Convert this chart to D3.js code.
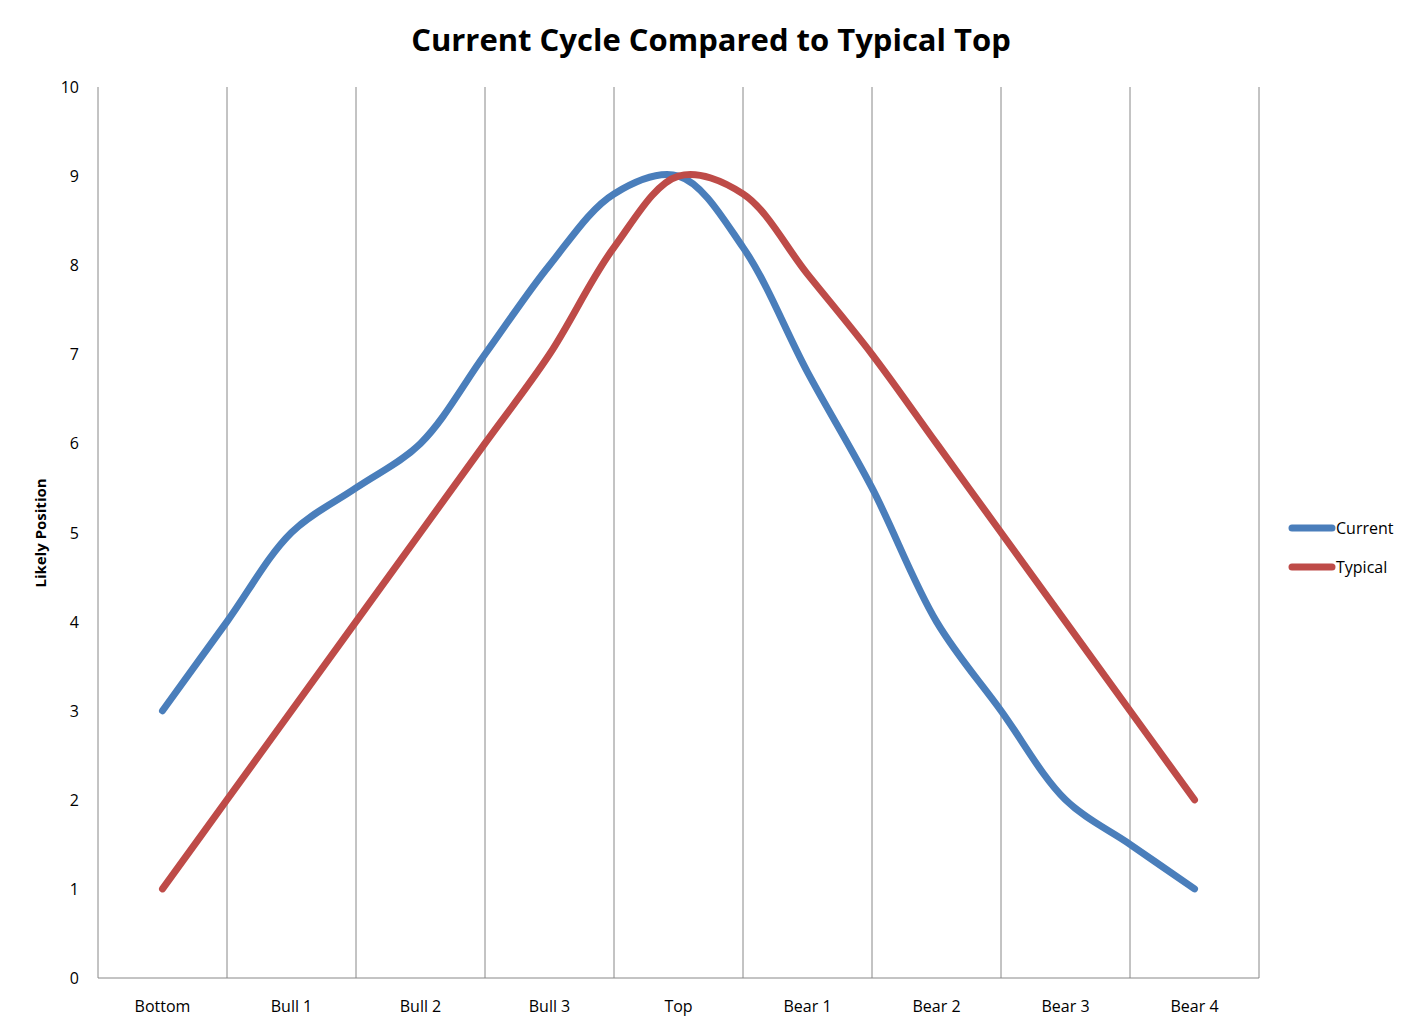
<!DOCTYPE html>
<html><head><meta charset="utf-8">
<script src="https://cdn.jsdelivr.net/npm/d3@7"></script>
<style>body{margin:0;background:#fff}text{font-family:"Open Sans","Liberation Sans",sans-serif}</style>
</head><body><svg width="1422" height="1031"></svg>
<script>
var categories = ["Bottom","Bull 1","Bull 2","Bull 3","Top","Bear 1","Bear 2","Bear 3","Bear 4"];
// values at every half step between categories
var current = [3,4,5,5.5,6,7,8,8.8,9,8.2,6.8,5.5,4,3,2,1.5,1];
var typical = [1,2,3,4,5,6,7,8.2,9,8.8,7.9,7,6,5,4,3,2];
var yTicks = [0,1,2,3,4,5,6,7,8,9,10];

var svg = d3.select("svg");
var plotL = 98, plotR = 1259, plotT = 87, plotB = 978;
var x = d3.scaleLinear().domain([-0.5, 8.5]).range([plotL, plotR]);
var y = d3.scaleLinear().domain([0, 10]).range([plotB, plotT]);

// vertical gridlines at category boundaries
svg.selectAll("line.grid").data(d3.range(1, 10)).enter().append("line")
  .attr("x1", d => x(d - 0.5)).attr("x2", d => x(d - 0.5))
  .attr("y1", plotT).attr("y2", plotB).attr("stroke", "#888").attr("stroke-width", 1);
svg.append("line").attr("x1", plotL).attr("x2", plotL).attr("y1", plotT).attr("y2", plotB).attr("stroke", "#888");
svg.append("line").attr("x1", plotL).attr("x2", plotR).attr("y1", plotB).attr("y2", plotB).attr("stroke", "#888");

svg.selectAll("text.yt").data(yTicks).enter().append("text")
  .attr("x", 79).attr("y", d => y(d) + 6).attr("text-anchor", "end")
  .attr("font-size", 16).text(d => d);
svg.selectAll("text.xt").data(categories).enter().append("text")
  .attr("x", (d, i) => x(i)).attr("y", 1012).attr("text-anchor", "middle")
  .attr("font-size", 16).text(d => d);

svg.append("text").attr("x", 711).attr("y", 51).attr("text-anchor", "middle")
  .attr("font-size", 31).attr("font-weight", "bold").text("Current Cycle Compared to Typical Top");
svg.append("text").attr("transform", "translate(46,533) rotate(-90)").attr("text-anchor", "middle")
  .attr("font-size", 15).attr("font-weight", "bold").text("Likely Position");

var line = d3.line().x((d, i) => x(i / 2)).y(d => y(d)).curve(d3.curveCatmullRom.alpha(0.5));
var series = [{name: "Current", data: current, color: "#4a7ebb"}, {name: "Typical", data: typical, color: "#be4b48"}];
series.forEach(function(s, k) {
  svg.append("path").attr("d", line(s.data)).attr("fill", "none").attr("stroke", s.color)
    .attr("stroke-width", 7).attr("stroke-linecap", "round").attr("stroke-linejoin", "round");
  var ly = 528 + k * 39;
  svg.append("line").attr("x1", 1292).attr("x2", 1332).attr("y1", ly).attr("y2", ly)
    .attr("stroke", s.color).attr("stroke-width", 7).attr("stroke-linecap", "round");
  svg.append("text").attr("x", 1336).attr("y", ly + 6).attr("font-size", 16).text(s.name);
});
</script></body></html>
